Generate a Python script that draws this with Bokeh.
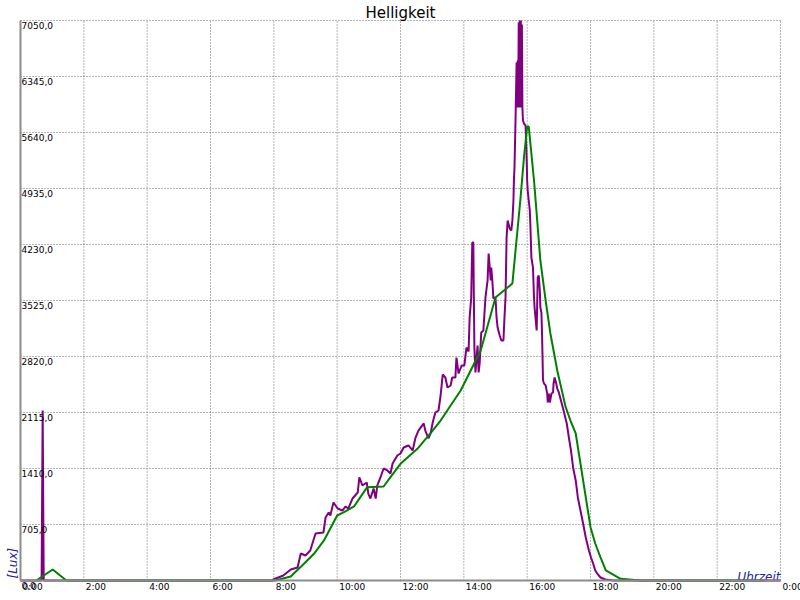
from bokeh.plotting import figure
from bokeh.models import Range1d, LinearAxis, FixedTicker
from bokeh.core.properties import value
from bokeh.embed import file_html
from bokeh.resources import INLINE

# ---------------- data ----------------
title = "Helligkeit"
x_label = "Uhrzeit"
y_label = "[Lux]"

x_tick_hours = [0, 2, 4, 6, 8, 10, 12, 14, 16, 18, 20, 22, 24]
x_tick_labels = ["0:00", "2:00", "4:00", "6:00", "8:00", "10:00", "12:00",
                 "14:00", "16:00", "18:00", "20:00", "22:00", "0:00"]
y_tick_values = [0, 705, 1410, 2115, 2820, 3525, 4230, 4935, 5640, 6345, 7050]
y_tick_labels = ["0,0", "705,0", "1410,0", "2115,0", "2820,0", "3525,0",
                 "4230,0", "4935,0", "5640,0", "6345,0", "7050,0"]

# measured brightness (minutes after midnight, lux)
lux_minutes = [0, 40, 42, 44, 477, 479, 498, 512, 525, 531,
               540, 549, 559, 574, 578, 584, 587, 593, 601, 610,
               616, 621, 629, 639, 642, 648, 656, 659, 663, 669,
               673, 676, 682, 688, 695, 701, 705, 714, 720, 726,
               735, 743, 748, 754, 764, 767, 773, 777, 781, 786,
               792, 796, 800, 805, 809, 815, 818, 824, 826, 830,
               836, 841, 845, 849, 851, 854, 856, 858, 859, 860,
               862, 866, 868, 870, 873, 877, 881, 885, 887, 891,
               892, 894, 896, 900, 902, 904, 908, 911, 915, 917,
               919, 921, 923, 927, 930, 932, 934, 935, 936, 938,
               940, 941, 942, 943, 944, 945, 946, 947, 948, 949,
               950, 951, 952, 954, 957, 959, 960, 961, 963, 965,
               966, 968, 971, 973, 974, 978, 980, 982, 984, 985,
               987, 988, 989, 990, 992, 995, 998, 999, 1001, 1003,
               1006, 1009, 1010, 1012, 1015, 1017, 1020, 1024, 1029, 1035,
               1039, 1043, 1047, 1052, 1056, 1061, 1066, 1071, 1077, 1081,
               1085, 1089, 1094, 1099, 1108, 1124, 1440]
lux_values = [0, 0, 2140, 0, 0, 13, 63, 138, 164, 340,
              315, 378, 592, 604, 793, 856, 818, 982, 906, 881,
              932, 906, 1032, 1108, 1297, 1196, 1234, 1095, 1032, 1158,
              1032, 1196, 1297, 1410, 1385, 1347, 1473, 1574, 1599, 1674,
              1700, 1637, 1788, 1888, 1977, 1888, 1788, 1851, 1989, 2115,
              2140, 2329, 2593, 2556, 2430, 2455, 2556, 2556, 2807, 2606,
              2707, 2707, 2933, 2883, 3311, 3563, 4255, 4255, 3563, 2933,
              2619, 2958, 2619, 2732, 3122, 3147, 3563, 3777, 4117, 3777,
              3940, 3777, 3550, 3563, 3311, 3185, 3084, 3021, 3021, 3311,
              3563, 4318, 4532, 4431, 4406, 4532, 4784, 5061, 5199, 5816,
              6521, 5955, 6546, 5955, 7025, 5955, 7050, 5955, 7050, 5955,
              7000, 5955, 5791, 5753, 5728, 5325, 5036, 4910, 4784, 4658,
              4494, 4066, 3940, 3563, 3437, 3147, 3814, 3840, 3651, 3437,
              3374, 3147, 2858, 2518, 2480, 2455, 2354, 2241, 2354, 2241,
              2354, 2367, 2480, 2556, 2480, 2417, 2367, 2266, 2140, 1977,
              1800, 1637, 1423, 1259, 1045, 881, 718, 541, 378, 290,
              214, 126, 76, 38, 13, 0, 0]

# smoothed brightness (minutes after midnight, lux)
avg_minutes = [30, 61, 87, 483, 512, 537, 556, 575, 600, 613,
               632, 644, 657, 688, 701, 720, 752, 777, 796, 834,
               872, 900, 932, 947, 954, 960, 963, 973, 985, 995,
               1004, 1017, 1033, 1042, 1052, 1080, 1089, 1099, 1109, 1137,
               1175, 1410]
avg_values = [0, 138, 0, 0, 50, 210, 336, 504, 818, 860,
              932, 1049, 1175, 1183, 1301, 1469, 1658, 1855, 2014, 2392,
              2896, 3563, 3739, 4784, 5329, 5715, 5715, 5036, 4029, 3525,
              3110, 2644, 2182, 2014, 1851, 671, 466, 290, 126, 21,
              0, 0]

# ---------------- layout ----------------
W, H = 800, 600
left, right, top, bottom = 20, 780, 20, 580
x_min, x_max = x_tick_hours[0], x_tick_hours[-1]
y_min, y_max = y_tick_values[0], y_tick_values[-1]
hx = (x_max - x_min) / (right - left)
vy = (y_max - y_min) / (bottom - top)
x_range = Range1d(x_min - left * hx, x_max + (W - right) * hx)
y_range = Range1d(y_min - (H - bottom) * vy, y_max + top * vy)

p = figure(width=W, height=H, x_range=x_range, y_range=y_range,
           x_axis_type=None, y_axis_type=None,
           toolbar_location=None, output_backend="svg",
           min_border=0, outline_line_color=None,
           background_fill_color="white", border_fill_color="white",
           styles={"position": "absolute", "top": "0px", "left": "0px"})

grid_color = "#6a6a6a"
# vertical grid
p.segment(x0=x_tick_hours[1:], y0=[y_min] * (len(x_tick_hours) - 1),
          x1=x_tick_hours[1:], y1=[y_max] * (len(x_tick_hours) - 1),
          line_color=grid_color, line_width=1, line_dash="1 2")
# horizontal grid
p.segment(x0=[x_min] * (len(y_tick_values) - 1), y0=y_tick_values[1:],
          x1=[x_max] * (len(y_tick_values) - 1), y1=y_tick_values[1:],
          line_color=grid_color, line_width=1, line_dash="1 2")

# axes lines
yax = LinearAxis(fixed_location=x_min, bounds=(y_min, y_max),
                 ticker=FixedTicker(ticks=[]),
                 axis_line_color="#8c8c8c", axis_line_width=2,
                 major_tick_line_color=None, minor_tick_line_color=None,
                 major_label_text_font_size="0px")
p.add_layout(yax, "left")
xax = LinearAxis(fixed_location=y_min, bounds=(x_min, x_max),
                 ticker=FixedTicker(ticks=[]),
                 axis_line_color="#8c8c8c", axis_line_width=2,
                 major_tick_line_color=None, minor_tick_line_color=None,
                 major_label_text_font_size="0px")
p.add_layout(xax, "below")

# series
p.line([m / 60 for m in lux_minutes], lux_values, line_color="#800080", line_width=2)
p.line([m / 60 for m in avg_minutes], avg_values, line_color="#008000", line_width=2)

font = value("DejaVu Sans")
# tick labels
p.text(x=[x_min] * len(y_tick_values), y=y_tick_values, text=y_tick_labels,
       x_offset=1, y_offset=1, text_align="left", text_baseline="top",
       text_font=font, text_font_size="9px", text_color="black")
p.text(x=x_tick_hours, y=[y_min] * len(x_tick_hours), text=x_tick_labels,
       x_offset=2, y_offset=1, text_align="left", text_baseline="top",
       text_font=font, text_font_size="9px", text_color="black")

# axis titles
lab_color = "#22229a"
p.text(x=[x_max], y=[y_min], text=[x_label], x_offset=0, y_offset=-4,
       text_align="right", text_baseline="alphabetic",
       text_font=font, text_font_size="12px", text_font_style="italic",
       text_color=lab_color)
p.text(x=[x_min], y=[y_min], text=[y_label], x_offset=-8, y_offset=-2,
       angle=1.5707963, text_align="left", text_baseline="alphabetic",
       text_font=font, text_font_size="12px", text_font_style="italic",
       text_color=lab_color)

# title
p.text(x=[(x_min + x_max) / 2], y=[y_max], text=[title], y_offset=-8,
       text_align="center", text_baseline="alphabetic",
       text_font=font, text_font_size="15px", text_color="black")

open("out.html", "w").write(file_html(p, INLINE))
